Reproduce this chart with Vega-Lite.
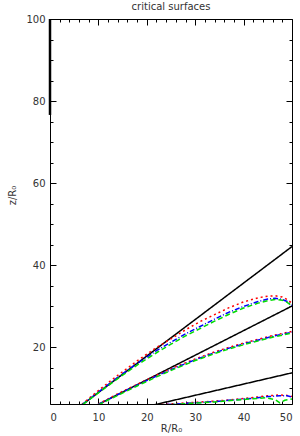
{
  "$schema": "https://vega.github.io/schema/vega-lite/v6.json",
  "width": 242,
  "height": 385,
  "autosize": "none",
  "padding": {"left": 50, "top": 19, "right": 8, "bottom": 32},
  "title": {"text": "critical surfaces", "font": "DejaVu Sans", "fontSize": 10, "fontWeight": "normal", "color": "#333", "offset": 2},
  "config": {
    "view": {"stroke": null},
    "axis": {"grid": false, "domainColor": "#000", "domainWidth": 1, "tickColor": "#000", "tickWidth": 1, "labelFont": "DejaVu Sans", "labelFontSize": 10, "labelColor": "#333", "titleFont": "DejaVu Sans", "titleFontSize": 10, "titleFontWeight": "normal", "titleColor": "#333"}
  },
  "data": {"values": [
    {"id": "b1", "s": "black", "R": 0, "z": 0}, {"id": "b1", "s": "black", "R": 50, "z": 44.5},
    {"id": "b2", "s": "black", "R": 0, "z": 0}, {"id": "b2", "s": "black", "R": 50, "z": 30},
    {"id": "b3", "s": "black", "R": 0, "z": 0}, {"id": "b3", "s": "black", "R": 50, "z": 13.7},
    {"id": "ax", "s": "axis", "R": 0, "z": 76.6}, {"id": "ax", "s": "axis", "R": 0, "z": 100},

    {"id": "rA", "s": "red", "R": 6.6, "z": 6}, {"id": "rA", "s": "red", "R": 10, "z": 9.4}, {"id": "rA", "s": "red", "R": 14, "z": 13.1}, {"id": "rA", "s": "red", "R": 18, "z": 16.6}, {"id": "rA", "s": "red", "R": 22, "z": 19.9}, {"id": "rA", "s": "red", "R": 25, "z": 22.0}, {"id": "rA", "s": "red", "R": 28, "z": 24.2}, {"id": "rA", "s": "red", "R": 31, "z": 26.2}, {"id": "rA", "s": "red", "R": 34, "z": 27.9}, {"id": "rA", "s": "red", "R": 37, "z": 29.6}, {"id": "rA", "s": "red", "R": 40, "z": 31.0}, {"id": "rA", "s": "red", "R": 43, "z": 32.0}, {"id": "rA", "s": "red", "R": 45, "z": 32.4}, {"id": "rA", "s": "red", "R": 46.5, "z": 32.5}, {"id": "rA", "s": "red", "R": 48, "z": 32.2}, {"id": "rA", "s": "red", "R": 49, "z": 31.6}, {"id": "rA", "s": "red", "R": 50, "z": 30.7},

    {"id": "uA", "s": "blue", "R": 6.7, "z": 6}, {"id": "uA", "s": "blue", "R": 10, "z": 9.0}, {"id": "uA", "s": "blue", "R": 14, "z": 12.6}, {"id": "uA", "s": "blue", "R": 18, "z": 16.0}, {"id": "uA", "s": "blue", "R": 22, "z": 19.1}, {"id": "uA", "s": "blue", "R": 25, "z": 21.2}, {"id": "uA", "s": "blue", "R": 28, "z": 23.2}, {"id": "uA", "s": "blue", "R": 31, "z": 25.0}, {"id": "uA", "s": "blue", "R": 34, "z": 26.8}, {"id": "uA", "s": "blue", "R": 37, "z": 28.5}, {"id": "uA", "s": "blue", "R": 40, "z": 29.9}, {"id": "uA", "s": "blue", "R": 43, "z": 31.1}, {"id": "uA", "s": "blue", "R": 45, "z": 31.7}, {"id": "uA", "s": "blue", "R": 46.5, "z": 31.9}, {"id": "uA", "s": "blue", "R": 48, "z": 31.6}, {"id": "uA", "s": "blue", "R": 49, "z": 31.1}, {"id": "uA", "s": "blue", "R": 50, "z": 30.2},

    {"id": "gA", "s": "green", "R": 6.8, "z": 6}, {"id": "gA", "s": "green", "R": 10, "z": 8.8}, {"id": "gA", "s": "green", "R": 14, "z": 12.3}, {"id": "gA", "s": "green", "R": 18, "z": 15.6}, {"id": "gA", "s": "green", "R": 22, "z": 18.6}, {"id": "gA", "s": "green", "R": 25, "z": 20.7}, {"id": "gA", "s": "green", "R": 28, "z": 22.7}, {"id": "gA", "s": "green", "R": 31, "z": 24.5}, {"id": "gA", "s": "green", "R": 34, "z": 26.3}, {"id": "gA", "s": "green", "R": 37, "z": 28.0}, {"id": "gA", "s": "green", "R": 40, "z": 29.5}, {"id": "gA", "s": "green", "R": 43, "z": 30.7}, {"id": "gA", "s": "green", "R": 45, "z": 31.3}, {"id": "gA", "s": "green", "R": 46.5, "z": 31.6}, {"id": "gA", "s": "green", "R": 48, "z": 31.4}, {"id": "gA", "s": "green", "R": 49, "z": 30.9}, {"id": "gA", "s": "green", "R": 50, "z": 30.0},

    {"id": "rB", "s": "red", "R": 10, "z": 6.1}, {"id": "rB", "s": "red", "R": 14, "z": 8.6}, {"id": "rB", "s": "red", "R": 18, "z": 10.9}, {"id": "rB", "s": "red", "R": 22, "z": 13.1}, {"id": "rB", "s": "red", "R": 26, "z": 15.2}, {"id": "rB", "s": "red", "R": 30, "z": 17.1}, {"id": "rB", "s": "red", "R": 34, "z": 18.8}, {"id": "rB", "s": "red", "R": 38, "z": 20.3}, {"id": "rB", "s": "red", "R": 42, "z": 21.6}, {"id": "rB", "s": "red", "R": 46, "z": 22.8}, {"id": "rB", "s": "red", "R": 50, "z": 23.8},

    {"id": "uB", "s": "blue", "R": 10, "z": 6.0}, {"id": "uB", "s": "blue", "R": 14, "z": 8.4}, {"id": "uB", "s": "blue", "R": 18, "z": 10.7}, {"id": "uB", "s": "blue", "R": 22, "z": 12.9}, {"id": "uB", "s": "blue", "R": 26, "z": 15.0}, {"id": "uB", "s": "blue", "R": 30, "z": 16.9}, {"id": "uB", "s": "blue", "R": 34, "z": 18.6}, {"id": "uB", "s": "blue", "R": 38, "z": 20.1}, {"id": "uB", "s": "blue", "R": 42, "z": 21.4}, {"id": "uB", "s": "blue", "R": 46, "z": 22.6}, {"id": "uB", "s": "blue", "R": 50, "z": 23.6},

    {"id": "gB", "s": "green", "R": 10, "z": 5.9}, {"id": "gB", "s": "green", "R": 14, "z": 8.2}, {"id": "gB", "s": "green", "R": 18, "z": 10.5}, {"id": "gB", "s": "green", "R": 22, "z": 12.7}, {"id": "gB", "s": "green", "R": 26, "z": 14.8}, {"id": "gB", "s": "green", "R": 30, "z": 16.7}, {"id": "gB", "s": "green", "R": 34, "z": 18.4}, {"id": "gB", "s": "green", "R": 38, "z": 19.9}, {"id": "gB", "s": "green", "R": 42, "z": 21.2}, {"id": "gB", "s": "green", "R": 46, "z": 22.4}, {"id": "gB", "s": "green", "R": 50, "z": 23.4},

    {"id": "rC", "s": "red", "R": 22, "z": 5.9}, {"id": "rC", "s": "red", "R": 26, "z": 6.2}, {"id": "rC", "s": "red", "R": 30, "z": 6.5}, {"id": "rC", "s": "red", "R": 34, "z": 6.8}, {"id": "rC", "s": "red", "R": 38, "z": 7.2}, {"id": "rC", "s": "red", "R": 42, "z": 7.7}, {"id": "rC", "s": "red", "R": 45, "z": 8.1}, {"id": "rC", "s": "red", "R": 47.5, "z": 8.3}, {"id": "rC", "s": "red", "R": 49, "z": 8.2}, {"id": "rC", "s": "red", "R": 50, "z": 7.9},

    {"id": "uC", "s": "blue", "R": 22, "z": 5.8}, {"id": "uC", "s": "blue", "R": 26, "z": 6.1}, {"id": "uC", "s": "blue", "R": 30, "z": 6.4}, {"id": "uC", "s": "blue", "R": 34, "z": 6.7}, {"id": "uC", "s": "blue", "R": 38, "z": 7.1}, {"id": "uC", "s": "blue", "R": 42, "z": 7.5}, {"id": "uC", "s": "blue", "R": 45, "z": 7.9}, {"id": "uC", "s": "blue", "R": 47.5, "z": 8.1}, {"id": "uC", "s": "blue", "R": 49, "z": 8.1}, {"id": "uC", "s": "blue", "R": 50, "z": 7.8},

    {"id": "gC", "s": "green", "R": 22, "z": 5.8}, {"id": "gC", "s": "green", "R": 26, "z": 6.0}, {"id": "gC", "s": "green", "R": 30, "z": 6.3}, {"id": "gC", "s": "green", "R": 34, "z": 6.6}, {"id": "gC", "s": "green", "R": 38, "z": 7.0}, {"id": "gC", "s": "green", "R": 42, "z": 7.4}, {"id": "gC", "s": "green", "R": 44.5, "z": 7.6}, {"id": "gC", "s": "green", "R": 46.5, "z": 7.2}, {"id": "gC", "s": "green", "R": 47.5, "z": 6.4}, {"id": "gC", "s": "green", "R": 48.5, "z": 7.0}, {"id": "gC", "s": "green", "R": 50, "z": 7.3}
  ]},
  "layer": [
    {
      "transform": [{"filter": "datum.s !== 'axis'"}],
      "mark": {"type": "line", "clip": true, "strokeWidth": 1.5},
      "encoding": {
        "x": {"field": "R", "type": "quantitative", "scale": {"domain": [0, 50], "nice": false, "zero": false},
              "axis": {"orient": "bottom", "values": [0, 10, 20, 30, 40, 50], "tickSize": -6, "labelPadding": 14, "title": "R/R₀", "titlePadding": 1}},
        "y": {"field": "z", "type": "quantitative", "scale": {"domain": [6.1, 100], "nice": false, "zero": false},
              "axis": {"orient": "left", "values": [20, 40, 60, 80, 100], "tickSize": -6, "labelPadding": 11, "title": "z/R₀", "titlePadding": 8, "titleY": 176}},
        "color": {"field": "s", "type": "nominal", "scale": {"domain": ["black", "red", "blue", "green"], "range": ["#000000", "#ff0000", "#0000ff", "#00dd00"]}, "legend": null},
        "strokeDash": {"field": "s", "type": "nominal", "scale": {"domain": ["black", "red", "blue", "green"], "range": [[1, 0], [2, 3], [5, 2, 1, 2], [5, 3]]}, "legend": null},
        "detail": {"field": "id"},
        "order": {"field": "R", "type": "quantitative"}
      }
    },
    {
      "transform": [{"filter": "datum.s === 'axis'"}],
      "mark": {"type": "line", "clip": false, "strokeWidth": 2.5, "color": "#000"},
      "encoding": {
        "x": {"field": "R", "type": "quantitative", "axis": null},
        "y": {"field": "z", "type": "quantitative", "axis": null}
      }
    },
    {
      "mark": {"type": "point", "opacity": 0},
      "encoding": {
        "x": {"field": "R", "type": "quantitative", "axis": {"orient": "bottom", "values": [2, 4, 6, 8, 12, 14, 16, 18, 22, 24, 26, 28, 32, 34, 36, 38, 42, 44, 46, 48], "tickSize": -3, "labels": false, "domain": false, "title": null}},
        "y": {"field": "z", "type": "quantitative", "axis": {"orient": "left", "values": [10, 15, 25, 30, 35, 45, 50, 55, 65, 70, 75, 85, 90, 95], "tickSize": -3, "labels": false, "domain": false, "title": null}}
      }
    },
    {
      "mark": {"type": "point", "opacity": 0},
      "encoding": {
        "x": {"field": "R", "type": "quantitative", "axis": {"orient": "top", "values": [0, 10, 20, 30, 40, 50], "tickSize": -6, "labels": false, "title": null}},
        "y": {"field": "z", "type": "quantitative", "axis": {"orient": "right", "values": [20, 40, 60, 80, 100], "tickSize": -6, "labels": false, "title": null}}
      }
    },
    {
      "mark": {"type": "point", "opacity": 0},
      "encoding": {
        "x": {"field": "R", "type": "quantitative", "axis": {"orient": "top", "values": [2, 4, 6, 8, 12, 14, 16, 18, 22, 24, 26, 28, 32, 34, 36, 38, 42, 44, 46, 48], "tickSize": -3, "labels": false, "domain": false, "title": null}},
        "y": {"field": "z", "type": "quantitative", "axis": {"orient": "right", "values": [10, 15, 25, 30, 35, 45, 50, 55, 65, 70, 75, 85, 90, 95], "tickSize": -3, "labels": false, "domain": false, "title": null}}
      }
    }
  ],
  "resolve": {"axis": {"x": "independent", "y": "independent"}}
}
